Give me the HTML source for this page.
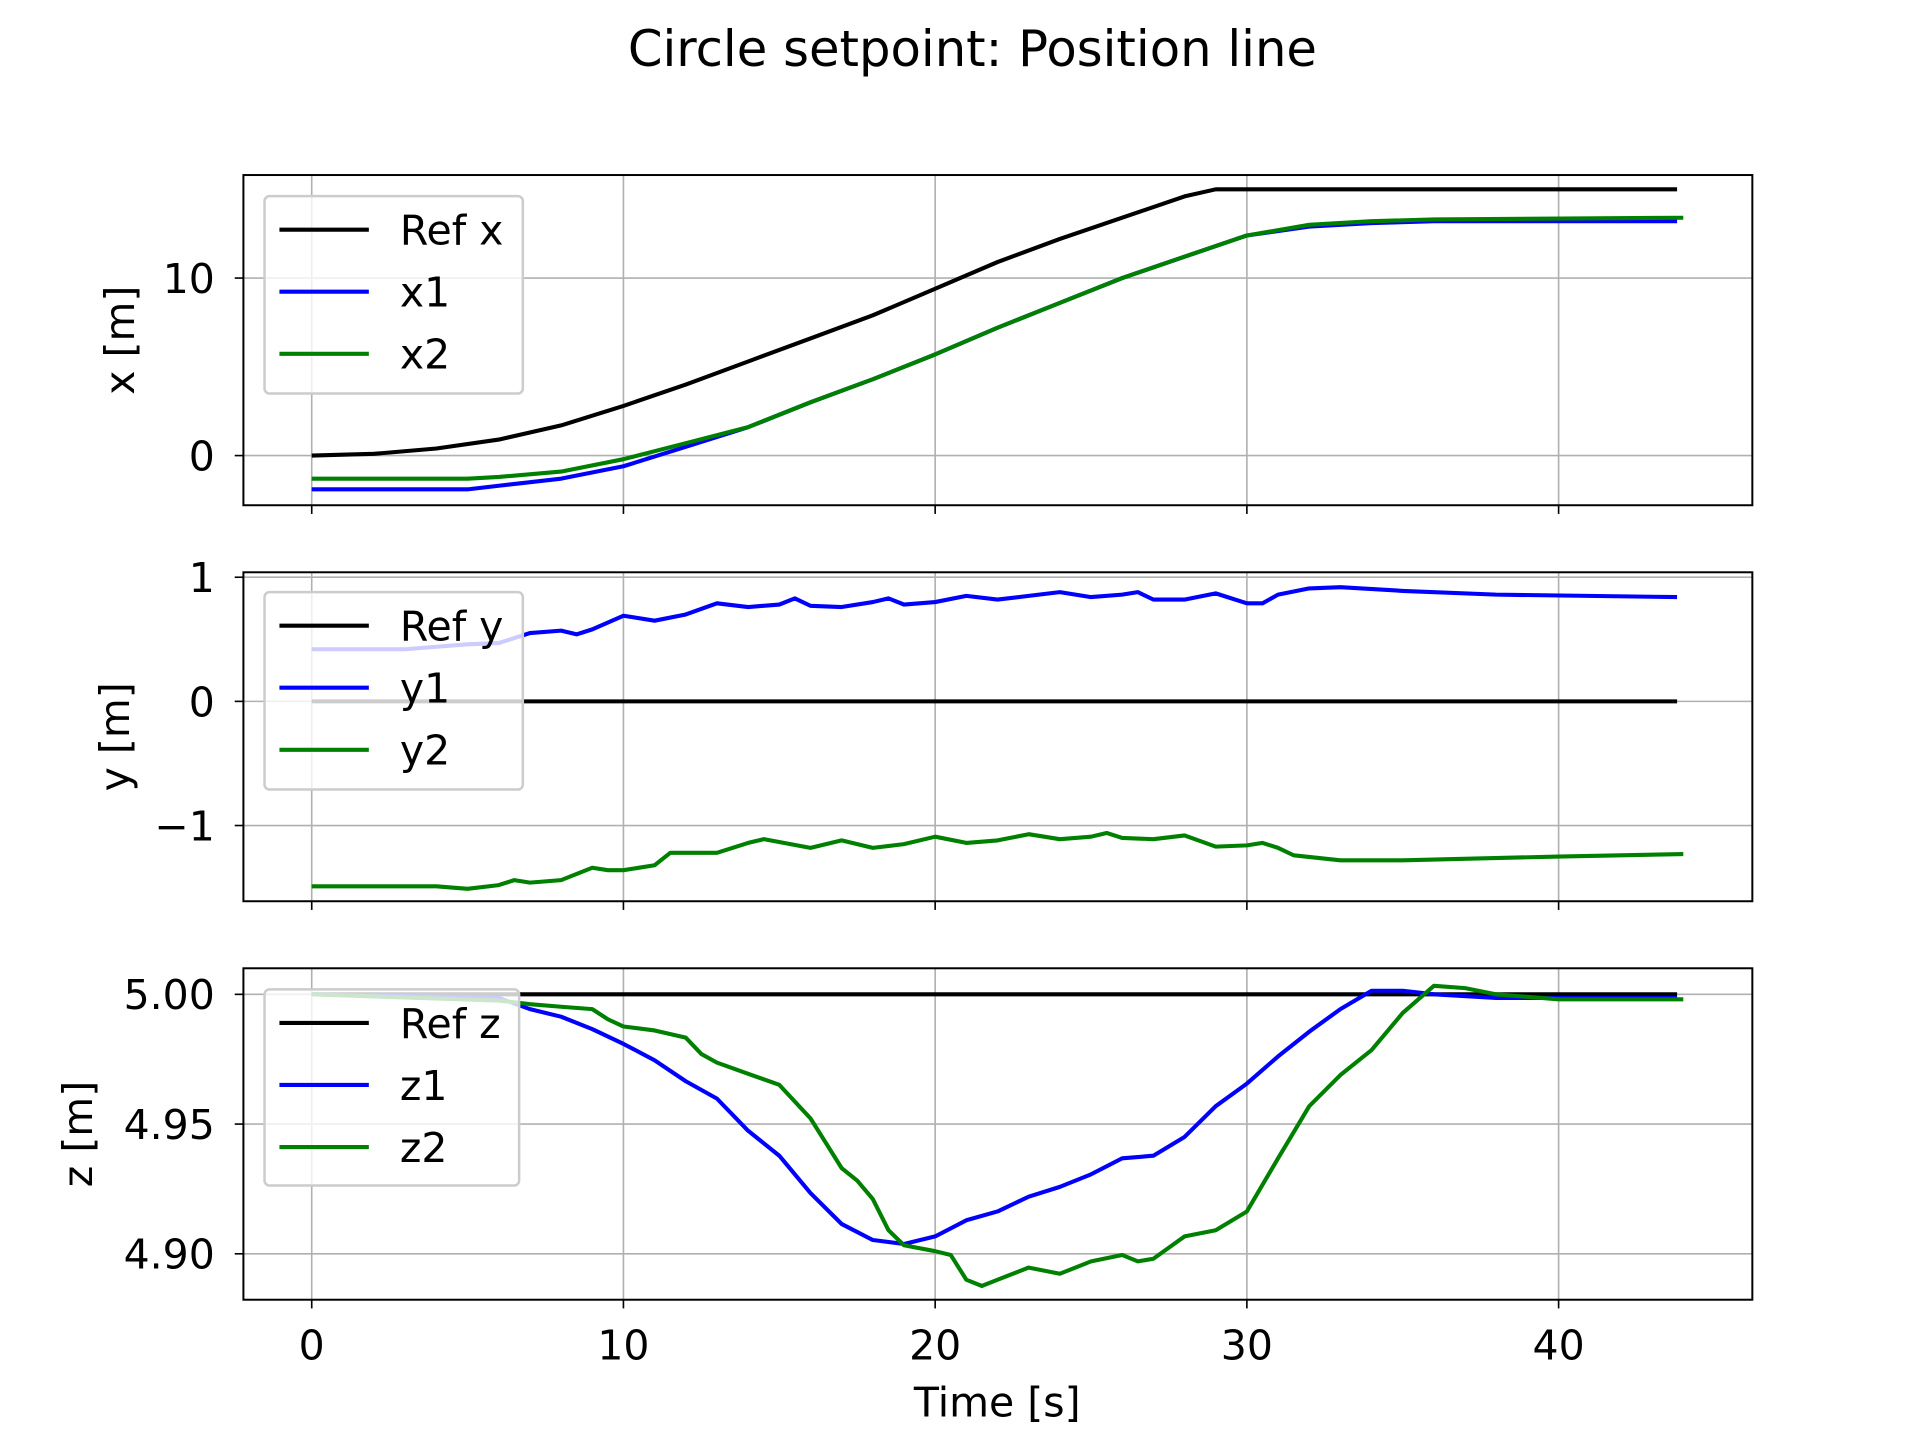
<!DOCTYPE html>
<html><head><meta charset="utf-8"><style>
html,body{margin:0;padding:0;background:#fff;}
svg{display:block;}
text{font-family:"DejaVu Sans","Liberation Sans",sans-serif;fill:#000;}
</style></head><body>
<svg id="chart" width="1920" height="1440" viewBox="0 0 1546 1160" preserveAspectRatio="none" xmlns="http://www.w3.org/2000/svg">
<text x="783" y="53" font-size="40" text-anchor="middle">Circle setpoint: Position line</text>
<text x="803" y="1141" font-size="33" text-anchor="middle">Time [s]</text>
</svg>
<script>
const xTicks = [0, 10, 20, 30, 40];
const refXT = [0, 2, 4, 6, 8, 10, 12, 14, 16, 18, 20, 22, 24, 26, 28, 29, 43.8];
const refXV = [0, 0.1, 0.4, 0.9, 1.7, 2.8, 4.0, 5.3, 6.6, 7.9, 9.4, 10.9, 12.2, 13.4, 14.6, 15, 15];
const x1T = [0, 5, 6, 8, 10, 12, 14, 16, 18, 20, 22, 24, 26, 28, 30, 32, 34, 36, 43.8];
const x1V = [-1.9, -1.9, -1.7, -1.3, -0.6, 0.5, 1.6, 3.0, 4.3, 5.7, 7.2, 8.6, 10.0, 11.2, 12.4, 12.9, 13.1, 13.2, 13.2];
const x2T = [0, 5, 6, 8, 10, 12, 14, 16, 18, 20, 22, 24, 26, 28, 30, 32, 34, 36, 44];
const x2V = [-1.3, -1.3, -1.2, -0.9, -0.2, 0.7, 1.6, 3.0, 4.3, 5.7, 7.2, 8.6, 10.0, 11.2, 12.4, 13.0, 13.2, 13.3, 13.4];
const refYT = [0, 43.8];
const refYV = [0, 0];
const y1T = [0,3,4,5,6,7,8,8.5,9,10,11,12,13,14,15,15.5,16,17,18,18.5,19,20,21,22,23,24,25,26,26.5,27,28,29,30,30.5,31,32,33,35,38,43.8];
const y1V = [0.42,0.42,0.44,0.46,0.47,0.55,0.57,0.54,0.58,0.69,0.65,0.70,0.79,0.76,0.78,0.83,0.77,0.76,0.80,0.83,0.78,0.80,0.85,0.82,0.85,0.88,0.84,0.86,0.88,0.82,0.82,0.87,0.79,0.79,0.86,0.91,0.92,0.89,0.86,0.84];
const y2T = [0,3,4,5,6,6.5,7,8,9,9.5,10,11,11.5,12,13,14,14.5,16,17,18,19,20,21,22,23,24,25,25.5,26,27,28,29,30,30.5,31,31.5,33,35,40,44];
const y2V = [-1.49,-1.49,-1.49,-1.51,-1.48,-1.44,-1.46,-1.44,-1.34,-1.36,-1.36,-1.32,-1.22,-1.22,-1.22,-1.14,-1.11,-1.18,-1.12,-1.18,-1.15,-1.09,-1.14,-1.12,-1.07,-1.11,-1.09,-1.06,-1.10,-1.11,-1.08,-1.17,-1.16,-1.14,-1.18,-1.24,-1.28,-1.28,-1.25,-1.23];
const refZT = [0, 43.8];
const refZV = [5.0, 5.0];
const z1T = [0,6,7,8,9,10,11,12,13,14,15,16,17,18,19,20,21,22,23,24,25,26,27,28,29,30,31,32,33,34,35,36,38,40,43.8];
const z1V = [5.0,4.9986,4.9943,4.9914,4.9866,4.9809,4.9746,4.9665,4.9598,4.9474,4.9378,4.9234,4.9115,4.9053,4.9038,4.9067,4.9129,4.9163,4.9220,4.9258,4.9306,4.9368,4.9378,4.9450,4.9569,4.9656,4.9761,4.9856,4.9943,5.0014,5.0014,5.0,4.9986,4.9986,4.9986];
const z2T = [0,6,7,8,9,9.5,10,11,12,12.5,13,14,15,16,16.5,17,17.5,18,18.5,19,20,20.5,21,21.5,22,23,24,25,26,26.5,27,28,29,30,31,32,33,34,35,36,37,38,40,44];
const z2V = [5.0,4.9976,4.9962,4.9952,4.9943,4.9904,4.9876,4.9861,4.9833,4.9770,4.9737,4.9694,4.9651,4.9522,4.9426,4.9330,4.9282,4.9211,4.9091,4.9033,4.9010,4.8995,4.8900,4.8876,4.8900,4.8947,4.8923,4.8971,4.8995,4.8971,4.8981,4.9067,4.9091,4.9163,4.9368,4.9569,4.9689,4.9785,4.9928,5.0033,5.0024,5.0,4.9981,4.9981];

const NS = "http://www.w3.org/2000/svg";
const svg = document.getElementById('chart');
const L = 196, R = 1411;
const xs = t => 251 + t * 25.1;
function el(tag, attrs, parent) {
  const e = document.createElementNS(NS, tag);
  for (const k in attrs) e.setAttribute(k, attrs[k]);
  (parent || svg).appendChild(e);
  return e;
}
const panels = [
  {key: 'x', top: 141, bot: 407, y: v => 367 - v * 14.3, ticks: [0, 10], lbl: ['0', '10'], ylab: 'x [m]', ylx: 97,
   series: [[refXT, refXV, '#000', 'Ref x'], [x1T, x1V, '#0000ff', 'x1'], [x2T, x2V, '#008000', 'x2']], leg: [213, 158, 208, 159]},
  {key: 'y', top: 461, bot: 726, y: v => 565 - v * 100, ticks: [1, 0, -1], lbl: ['1', '0', '\u22121'], ylab: 'y [m]', ylx: 93,
   series: [[refYT, refYV, '#000', 'Ref y'], [y1T, y1V, '#0000ff', 'y1'], [y2T, y2V, '#008000', 'y2']], leg: [213, 477, 208, 159]},
  {key: 'z', top: 780, bot: 1047, y: v => 801 + (5 - v) * 2090, ticks: [5.0, 4.95, 4.90], lbl: ['5.00', '4.95', '4.90'], ylab: 'z [m]', ylx: 63,
   series: [[refZT, refZV, '#000', 'Ref z'], [z1T, z1V, '#0000ff', 'z1'], [z2T, z2V, '#008000', 'z2']], leg: [213, 797, 205, 158]}
];
panels.forEach((p, pi) => {
  const g = el('g', {});
  
  
  xTicks.forEach(t => {
    const gl = el('line', {x1: xs(t), x2: xs(t), y1: p.top, y2: p.bot, stroke: '#b0b0b0', 'stroke-width': 1.3}, g);
    
    
    el('line', {x1: xs(t), x2: xs(t), y1: p.bot, y2: p.bot + 7, stroke: '#000', 'stroke-width': 1.3}, g);
    if (pi === 2) {
      const tx = el('text', {x: xs(t), y: 1095, 'font-size': 33, 'text-anchor': 'middle'}, g);
      tx.textContent = t;
      
      
    }
  });
  p.ticks.forEach((v, i) => {
    const yy = p.y(v);
    const gl = el('line', {x1: L, x2: R, y1: yy, y2: yy, stroke: '#b0b0b0', 'stroke-width': 1.3}, g);
    
    
    el('line', {x1: L - 7, x2: L, y1: yy, y2: yy, stroke: '#000', 'stroke-width': 1.3}, g);
    const tx = el('text', {x: L - 23, y: yy + 12, 'font-size': 33, 'text-anchor': 'end'}, g);
    tx.textContent = p.lbl[i];
    
    
  });
  const cy = (p.top + p.bot) / 2;
  const yl = el('text', {x: p.ylx, y: cy, 'font-size': 33, 'text-anchor': 'middle', transform: 'rotate(-90 ' + (p.ylx) + ' ' + cy + ')', dy: 11}, g);
  yl.textContent = p.ylab;
  
  
  p.series.forEach(s => {
    const pts = s[0].map((t, i) => xs(t).toFixed(1) + ',' + p.y(s[1][i]).toFixed(1)).join(' ');
    const pl = el('polyline', {points: pts, fill: 'none', stroke: s[2], 'stroke-width': 3.3, 'stroke-linejoin': 'round'}, g);
    
    
  });
  const fr = el('rect', {x: L, y: p.top, width: R - L, height: p.bot - p.top, fill: 'none', stroke: '#000', 'stroke-width': 1.6}, g);
  
  
  const lg = el('g', {}, g);
  
  
  const [lx, ly, lw, lh] = p.leg;
  el('rect', {x: lx, y: ly, width: lw, height: lh, rx: 4, fill: 'rgba(255,255,255,0.8)', stroke: '#cccccc', 'stroke-width': 2}, lg);
  p.series.forEach((s, i) => {
    const yy = ly + 27 + i * 50;
    const e = el('g', {}, lg);
    
    
    el('line', {x1: lx + 12, x2: lx + 84, y1: yy, y2: yy, stroke: s[2], 'stroke-width': 3.3}, e);
    const t = el('text', {x: lx + 109, y: yy + 12, 'font-size': 33}, e);
    t.textContent = s[3];
  });
});
</script>
</body></html>
